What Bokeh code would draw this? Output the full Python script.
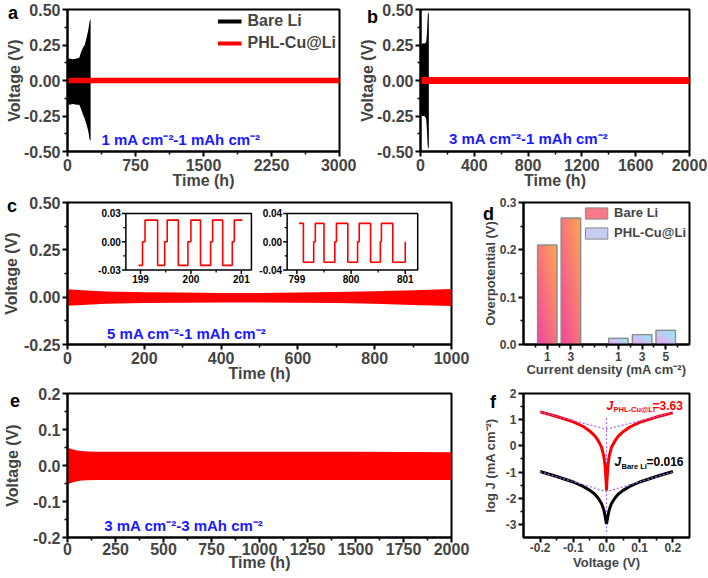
import numpy as np
from bokeh.plotting import figure
from bokeh.models import (Range1d, FixedTicker, NumeralTickFormatter, Label,
                          Legend, LegendItem, GridBox, Div)
from bokeh.core.properties import value
from bokeh.embed import file_html
from bokeh.resources import INLINE

FONT = "Liberation Sans"
RED = "#ff0000"
BLUE = "#1a1aff"

# ---------------- data ----------------
# (a) 1 mA cm-2 / 1 mAh cm-2 : voltage envelopes
a_bare_time = [0, 5, 20, 60, 100, 130, 150, 170, 190, 210, 230, 245, 255]
a_bare_upper = [0.10, 0.15, 0.155, 0.15, 0.155, 0.16, 0.20, 0.23, 0.25, 0.30, 0.36, 0.42, 0.43]
a_bare_lower = [-0.10, -0.16, -0.17, -0.165, -0.17, -0.17, -0.20, -0.24, -0.27, -0.31, -0.36, -0.42, -0.42]
a_phl_time = [0, 3000]
a_phl_upper = [0.02, 0.02]
a_phl_lower = [-0.02, -0.02]
a_xticks = [0, 750, 1500, 2250, 3000]
a_yticks = [-0.5, -0.25, 0.0, 0.25, 0.5]

# (b) 3 mA cm-2 / 1 mAh cm-2
b_bare_time = [0, 10, 30, 42, 48, 52, 56, 62]
b_bare_upper = [0.22, 0.26, 0.26, 0.27, 0.33, 0.42, 0.48, 0.47]
b_bare_lower = [-0.22, -0.25, -0.25, -0.27, -0.35, -0.44, -0.48, -0.47]
b_phl_time = [0, 2000]
b_phl_upper = [0.025, 0.025]
b_phl_lower = [-0.025, -0.025]
b_xticks = [0, 400, 800, 1200, 1600, 2000]
b_yticks = [-0.5, -0.25, 0.0, 0.25, 0.5]

# (c) 5 mA cm-2 / 1 mAh cm-2
c_time = [0, 50, 100, 200, 300, 400, 500, 600, 700, 800, 900, 1000]
c_upper = [0.042, 0.035, 0.030, 0.026, 0.024, 0.022, 0.022, 0.024, 0.027, 0.031, 0.037, 0.043]
c_lower = [-0.045, -0.040, -0.035, -0.031, -0.029, -0.028, -0.028, -0.029, -0.031, -0.035, -0.041, -0.047]
c_xticks = [0, 200, 400, 600, 800, 1000]
c_yticks = [-0.25, 0.0, 0.25, 0.5]
# insets of (c): step voltage profiles
ins1_time = [198.96, 199.04, 199.09, 199.34, 199.48, 199.53, 199.75, 199.94, 200.00,
             200.19, 200.39, 200.43, 200.63, 200.82, 200.86, 201.02]
ins1_volt = [-0.025, 0.0, 0.023, -0.025, 0.0, 0.023, -0.025, 0.0, 0.023,
             -0.025, 0.0, 0.023, -0.025, 0.0, 0.023, 0.023]
ins1_xticks = [199, 200, 201]
ins1_xlabels = ["199", "200", "201"]
ins1_yticks = [-0.03, 0.0, 0.03]
ins1_ylabels = ["-0.03", "0.00", "0.03"]
ins2_time = [799.04, 799.12, 799.31, 799.34, 799.50, 799.70, 799.73, 799.94, 800.12,
             800.15, 800.36, 800.54, 800.56, 800.77, 801.00]
ins2_volt = [0.026, -0.029, 0.0, 0.026, -0.029, 0.0, 0.026, -0.029, 0.0,
             0.026, -0.029, 0.0, 0.026, -0.029, 0.0]
ins2_xticks = [799, 800, 801]
ins2_xlabels = ["799", "800", "801"]
ins2_yticks = [-0.04, 0.0, 0.04]
ins2_ylabels = ["-0.04", "0.00", "0.04"]

# (d) overpotential bars
d_bare_labels = ["1", "3"]
d_bare_pos = [1, 2]
d_bare_values = [0.210, 0.267]
d_phl_labels = ["1", "3", "5"]
d_phl_pos = [4, 5, 6]
d_phl_values = [0.013, 0.021, 0.030]
d_yticks = [0.0, 0.1, 0.2, 0.3]

# (e) 3 mA cm-2 / 3 mAh cm-2
e_time = [0, 10, 25, 50, 75, 100, 150, 250, 500, 1000, 1500, 2000]
e_upper = [0.050, 0.048, 0.045, 0.042, 0.040, 0.039, 0.038, 0.038, 0.038, 0.038, 0.038, 0.037]
e_lower = [-0.052, -0.050, -0.047, -0.044, -0.042, -0.041, -0.040, -0.040, -0.040, -0.040, -0.040, -0.040]
e_xticks = [0, 250, 500, 750, 1000, 1250, 1500, 1750, 2000]
e_yticks = [-0.2, -0.1, 0.0, 0.1, 0.2]

# (f) Tafel plots
f_volt = [-0.2, -0.15, -0.1, -0.07, -0.05, -0.035, -0.025, -0.015, -0.008, -0.004, -0.001, 0.0,
          0.001, 0.004, 0.008, 0.015, 0.025, 0.035, 0.05, 0.07, 0.1, 0.15, 0.2]
f_phl = [1.30, 1.12, 0.92, 0.74, 0.56, 0.38, 0.20, -0.05, -0.40, -0.80, -1.40, -1.70,
         -1.40, -0.80, -0.40, -0.05, 0.18, 0.36, 0.54, 0.72, 0.90, 1.10, 1.26]
f_bare = [-0.98, -1.17, -1.38, -1.55, -1.70, -1.85, -2.00, -2.20, -2.45, -2.70, -2.92, -2.98,
          -2.92, -2.70, -2.45, -2.20, -2.00, -1.85, -1.70, -1.55, -1.38, -1.17, -0.98]
f_tafel_volt = [-0.2, 0.0, 0.2]
f_tafel_phl = [1.28, 0.64, 1.26]
f_tafel_bare = [-0.99, -1.75, -0.99]
f_zero_volt = [0.0, 0.0]
f_zero_logj = [-3.3, 1.1]
f_xticks = [-0.2, -0.1, 0.0, 0.1, 0.2]
f_yticks = [-3, -2, -1, 0, 1, 2]


# ---------------- helpers ----------------
def style_axis(ax, ticks, minor, fmt, label, tick_px, lab_px, standoff, lab_so):
    ax.ticker = FixedTicker(ticks=ticks, minor_ticks=minor)
    if fmt is not None:
        ax.formatter = NumeralTickFormatter(format=fmt)
    ax.axis_label = label
    ax.axis_label_text_font = FONT
    ax.axis_label_text_font_style = "bold"
    ax.axis_label_text_font_size = lab_px
    ax.axis_label_standoff = standoff
    ax.major_label_text_font = FONT
    ax.major_label_text_font_style = "bold"
    ax.major_label_text_font_size = tick_px
    ax.major_label_standoff = lab_so
    ax.axis_line_width = 2
    ax.major_tick_line_width = 2
    ax.minor_tick_line_width = 1.5
    ax.major_tick_out = 5
    ax.major_tick_in = 0
    ax.minor_tick_out = 3
    ax.minor_tick_in = 0


def mids(t):
    return [(a + b) / 2 for a, b in zip(t[:-1], t[1:])]


def make_fig(width, height, xr, yr, borders, xticks, yticks, xfmt, yfmt, xlabel, ylabel,
             tick_px="16px", lab_px="16px", xso=-2, yso=0, xminor=None, yminor=None, xls=2):
    l, r, t, b = borders
    p = figure(width=width, height=height, x_range=Range1d(*xr), y_range=Range1d(*yr),
               output_backend="svg", toolbar_location=None,
               min_border_left=l, min_border_right=r, min_border_top=t, min_border_bottom=b)
    p.grid.visible = False
    p.outline_line_color = "black"
    p.outline_line_width = 2
    p.background_fill_color = "white"
    p.border_fill_color = "white"
    style_axis(p.xaxis[0], xticks, xminor if xminor is not None else mids(xticks), xfmt, xlabel,
               tick_px, lab_px, xso, xls)
    style_axis(p.yaxis[0], yticks, yminor if yminor is not None else mids(yticks), yfmt, ylabel,
               tick_px, lab_px, yso, 2)
    return p


def cond_label(p, text, x, y):
    p.add_layout(Label(x=x, y=y, text=text, text_color=BLUE, text_font=FONT,
                       text_font_style="bold", text_font_size="15px",
                       text_baseline="middle", text_align="left"))


def letter_div(text, dx, dy):
    html = ('<div style="font-family:\'Liberation Sans\',Arial,sans-serif;font-weight:bold;'
            'font-size:18px;line-height:18px;color:black;margin-left:%dpx;margin-top:%dpx">%s</div>'
            % (dx, dy, text))
    return Div(text=html, width=24, height=22)


def gradient(c0, c1, n=64):
    i = np.linspace(0, 1, n)[:, None]
    j = np.linspace(0, 1, n)[None, :]
    t = (i + j) / 2
    img = np.empty((n, n), dtype=np.uint32)
    v = img.view(dtype=np.uint8).reshape((n, n, 4))
    for k in range(3):
        v[:, :, k] = (c0[k] * (1 - t) + c1[k] * t).astype(np.uint8)
    v[:, :, 3] = 255
    return img


def center(u, l):
    return [(a + b) / 2 for a, b in zip(u, l)]


# ---------------- (a) ----------------
pa = make_fig(356, 192, (0, 3000), (-0.5, 0.5), (66, 17, 9, 41), a_xticks, a_yticks,
              "0", "0.00", "Time (h)", "Voltage (V)", yso=-2)
pa.varea(x=a_bare_time, y1=a_bare_lower, y2=a_bare_upper, fill_color="black")
la1 = pa.line(x=a_bare_time, y=center(a_bare_upper, a_bare_lower), line_color="black", line_width=4)
pa.varea(x=a_phl_time, y1=a_phl_lower, y2=a_phl_upper, fill_color=RED)
la2 = pa.line(x=a_phl_time, y=center(a_phl_upper, a_phl_lower), line_color=RED, line_width=4)
leg_a = Legend(items=[LegendItem(label="Bare Li", renderers=[la1]),
                      LegendItem(label="PHL-Cu@Li", renderers=[la2])],
               location="top_right", border_line_color=None, background_fill_alpha=0,
               label_text_font=FONT, label_text_font_style="bold", label_text_font_size="16px",
               glyph_width=24, glyph_height=18, spacing=4, padding=2, margin=3, label_standoff=6)
pa.add_layout(leg_a)
cond_label(pa, "1 mA cm⁻²-1 mAh cm⁻²", 374, -0.415)

# ---------------- (b) ----------------
pb = make_fig(352, 192, (0, 2000), (-0.5, 0.5), (60, 19, 9, 41), b_xticks, b_yticks,
              "0", "0.00", "Time (h)", "Voltage (V)", yso=-2)
pb.varea(x=b_bare_time, y1=b_bare_lower, y2=b_bare_upper, fill_color="black")
pb.varea(x=b_phl_time, y1=b_phl_lower, y2=b_phl_upper, fill_color=RED)
cond_label(pb, "3 mA cm⁻²-1 mAh cm⁻²", 212, -0.41)

# ---------------- (c) ----------------
pc = make_fig(470, 193, (0, 1000), (-0.25, 0.5), (63, 19, 9, 41), c_xticks, c_yticks,
              "0", "0.00", "Time (h)", "Voltage (V)", yso=1, xso=-2)
pc.varea(x=c_time, y1=c_lower, y2=c_upper, fill_color=RED)
cond_label(pc, "5 mA cm⁻²-1 mAh cm⁻²", 103, -0.19)


def inset(p, xs, ys, xr, yr, xt, yt, xticks, xlabels, yticks, ylabels):
    sp = p.subplot(x_source=Range1d(*xr), y_source=Range1d(*yr),
                   x_target=Range1d(*xt), y_target=Range1d(*yt))
    sp.step(x=xs, y=ys, mode="after", line_color=RED, line_width=1.6)
    sp.quad(left=[xr[0]], right=[xr[1]], bottom=[yr[0]], top=[yr[1]], fill_alpha=0,
            line_color="black", line_width=1.5)
    xm = mids(xticks)
    ym = mids(yticks)
    sp.ray(x=xticks, y=[yr[0]] * len(xticks), length=4, length_units="screen",
           angle=-np.pi / 2, line_color="black", line_width=1.5)
    sp.ray(x=xm, y=[yr[0]] * len(xm), length=2.5, length_units="screen",
           angle=-np.pi / 2, line_color="black", line_width=1.2)
    sp.ray(x=[xr[0]] * len(yticks), y=yticks, length=4, length_units="screen",
           angle=np.pi, line_color="black", line_width=1.5)
    sp.ray(x=[xr[0]] * len(ym), y=ym, length=2.5, length_units="screen",
           angle=np.pi, line_color="black", line_width=1.2)
    sp.text(x=xticks, y=[yr[0]] * len(xticks), text=xlabels, y_offset=5,
            text_align="center", text_baseline="top", text_font=value(FONT),
            text_font_style="bold", text_font_size="10px", text_color="black")
    sp.text(x=[xr[0]] * len(yticks), y=yticks, text=ylabels, x_offset=-5,
            text_align="right", text_baseline="middle", text_font=value(FONT),
            text_font_style="bold", text_font_size="10px", text_color="black")


inset(pc, ins1_time, ins1_volt, (198.71, 201.2), (-0.03, 0.03), (152, 479), (0.143, 0.442),
      ins1_xticks, ins1_xlabels, ins1_yticks, ins1_ylabels)
inset(pc, ins2_time, ins2_volt, (798.82, 801.23), (-0.04, 0.04), (572, 912), (0.143, 0.442),
      ins2_xticks, ins2_xlabels, ins2_yticks, ins2_ylabels)

# ---------------- (d) ----------------
d_all_pos = d_bare_pos + d_phl_pos
d_all_labels = d_bare_labels + d_phl_labels
d_minor = [x / 2 for x in range(1, 14) if x % 2 == 1 or x // 2 not in d_all_pos]
pd_ = make_fig(238, 193, (0, 7), (0, 0.3), (53, 19, 10, 41), d_all_pos, d_yticks,
               None, "0.0", "Current density (mA cm⁻²)", "Overpotential (V)",
               tick_px="12px", lab_px="13px", xso=-2, yso=-1, xminor=d_minor)
pd_.xaxis[0].major_label_overrides = {p: l for p, l in zip(d_all_pos, d_all_labels)}
W = 0.82
bare_mid = "#f77a88"
phl_mid = "#c6cdf2"
rb = pd_.vbar(x=d_bare_pos, top=d_bare_values, width=W, fill_color=bare_mid, line_color="#8a8a8a")
rp = pd_.vbar(x=d_phl_pos, top=d_phl_values, width=W, fill_color=phl_mid, line_color="#8a8a8a")
g_bare = gradient((240, 70, 160), (255, 168, 80))
g_phl = gradient((245, 165, 245), (140, 240, 240))
pd_.image_rgba(image=[g_bare] * len(d_bare_pos), x=[x - W / 2 for x in d_bare_pos],
               y=[0] * len(d_bare_pos), dw=[W] * len(d_bare_pos), dh=d_bare_values)
pd_.image_rgba(image=[g_phl] * len(d_phl_pos), x=[x - W / 2 for x in d_phl_pos],
               y=[0] * len(d_phl_pos), dw=[W] * len(d_phl_pos), dh=d_phl_values)
pd_.vbar(x=d_bare_pos, top=d_bare_values, width=W, fill_alpha=0, line_color="#8a8a8a", line_width=1.2)
pd_.vbar(x=d_phl_pos, top=d_phl_values, width=W, fill_alpha=0, line_color="#8a8a8a", line_width=1.2)
leg_d = Legend(items=[LegendItem(label="Bare Li", renderers=[rb]),
                      LegendItem(label="PHL-Cu@Li", renderers=[rp])],
               location="top_right", border_line_color=None, background_fill_alpha=0,
               label_text_font=FONT, label_text_font_style="bold", label_text_font_size="13px",
               glyph_width=28, glyph_height=14, spacing=5, padding=0, margin=3, label_standoff=4)
pd_.add_layout(leg_d)

# ---------------- (e) ----------------
pe = make_fig(470, 192, (0, 2000), (-0.2, 0.2), (63, 19, 8, 40), e_xticks, e_yticks,
              "0", "0.0", "Time (h)", "Voltage (V)", yso=9, xso=-4, xls=0)
pe.varea(x=e_time, y1=e_lower, y2=e_upper, fill_color=RED)
cond_label(pe, "3 mA cm⁻²-3 mAh cm⁻²", 191, -0.167)

# ---------------- (f) ----------------
pf = make_fig(238, 192, (-0.25, 0.25), (-3.5, 2), (53, 19, 8, 40), f_xticks, f_yticks,
              "0.0", "0", "Voltage (V)", "log J (mA cm⁻²)",
              tick_px="12px", lab_px="13px", xso=0, yso=5, xls=0)
pf.line(x=f_zero_volt, y=f_zero_logj, line_color="#9a66ff", line_width=1.2, line_dash="2 2")
pf.line(x=f_volt, y=f_phl, line_color=RED, line_width=3)
pf.line(x=f_volt, y=f_bare, line_color="black", line_width=3)
pf.line(x=f_tafel_volt, y=f_tafel_phl, line_color="#9a66ff", line_width=1.2, line_dash="2 2")
pf.line(x=f_tafel_volt, y=f_tafel_bare, line_color="#9a66ff", line_width=1.2, line_dash="2 2")


def jlabel(p, x, y, sub, val, color, subw):
    common = dict(x=x, y=y, text_font=FONT, text_color=color, text_baseline="middle",
                  text_align="left")
    p.add_layout(Label(text="J", text_font_style="bold italic", text_font_size="12px", **common))
    p.add_layout(Label(text=sub, text_font_style="bold", text_font_size="7.5px",
                       x_offset=7, y_offset=-4, **common))
    p.add_layout(Label(text=val, text_font_style="bold", text_font_size="12px",
                       x_offset=7 + subw, **common))


jlabel(pf, 0.0, 1.54, "PHL-Cu@Li", "=3.63", RED, 39)
jlabel(pf, 0.024, -0.62, "Bare Li", "=0.016", "black", 25)

# ---------------- layout ----------------
children = [
    (pa, 0, 0, 1, 1), (pb, 0, 1, 1, 2),
    (pc, 1, 0, 1, 2), (pd_, 1, 2, 1, 1),
    (pe, 2, 0, 1, 2), (pf, 2, 2, 1, 1),
    (letter_div("a", 3, -1), 0, 0, 1, 1),
    (letter_div("b", 6, 3), 0, 1, 1, 1),
    (letter_div("c", 2, 0), 1, 0, 1, 1),
    (letter_div("d", 8, 8), 1, 2, 1, 1),
    (letter_div("e", 5, 2), 2, 0, 1, 1),
    (letter_div("f", 15, 3), 2, 2, 1, 1),
]
grid = GridBox(children=children, cols=["356px", "114px", "238px"],
               rows=["192px", "193px", "192px"], spacing=0)
open("out.html", "w").write(file_html(grid, INLINE))
